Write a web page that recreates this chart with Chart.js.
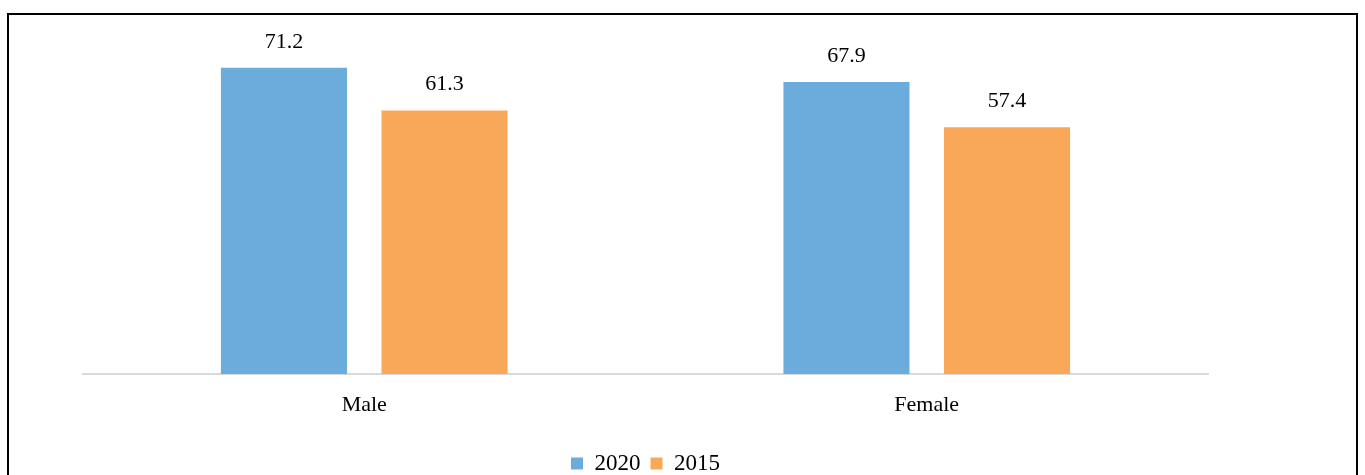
<!DOCTYPE html>
<html>
<head>
<meta charset="utf-8">
<script src="https://cdn.jsdelivr.net/npm/chart.js@4"></script>
<style>
  html, body { margin: 0; padding: 0; background: #fff; }
  #wrap { position: relative; width: 1365px; height: 475px; overflow: hidden; }
  #frame { position: absolute; left: 7px; top: 13px; width: 1351px; height: 480px; border: 2px solid #000; box-sizing: border-box; }
  canvas { position: absolute; left: 0; top: 0; }
</style>
</head>
<body>
<div id="wrap">
  <div id="frame"></div>
  <canvas id="genderChart" width="1365" height="475"></canvas>
</div>
<script>
const categories = ['Male', 'Female'];
const seriesNames = ['2020', '2015'];
const values2020 = [71.2, 67.9];
const values2015 = [61.3, 57.4];
const colors = ['#6cacdc', '#f9a85a'];

const FONT = "'Liberation Serif', 'DejaVu Serif', serif";

// value labels above each bar
const barLabels = {
    id: 'barLabels',
    afterDatasetsDraw(chart) {
        const ctx = chart.ctx;
        ctx.save();
        ctx.font = '22px ' + FONT;
        ctx.fillStyle = '#000';
        ctx.textAlign = 'center';
        ctx.textBaseline = 'alphabetic';
        chart.data.datasets.forEach((ds, i) => {
            chart.getDatasetMeta(i).data.forEach((bar, j) => {
                ctx.fillText(ds.data[j].toFixed(1), bar.x, bar.y - 20);
            });
        });
        ctx.restore();
    }
};

new Chart('genderChart', {
    type: 'bar',
    data: {
        labels: categories,
        datasets: [
            { label: seriesNames[0], data: values2020, backgroundColor: colors[0] },
            { label: seriesNames[1], data: values2015, backgroundColor: colors[1] }
        ]
    },
    options: {
        responsive: false,
        animation: false,
        events: [],
        categoryPercentage: 0.571,
        barPercentage: 0.785,
        layout: { padding: { left: 83, right: 157, top: 30, bottom: -10 } },
        scales: {
            x: {
                grid: { display: false },
                border: { color: '#d9d9d9', width: 2 },
                ticks: { color: '#000', font: { family: FONT, size: 22 }, padding: 10 },
                afterFit: (scale) => { scale.height = 68; }
            },
            y: {
                display: false,
                min: 0,
                max: 80
            }
        },
        plugins: {
            legend: {
                position: 'bottom',
                labels: {
                    color: '#000',
                    font: { family: FONT, size: 23, lineHeight: 1.0 },
                    boxWidth: 12,
                    boxHeight: 12,
                    padding: 10
                }
            },
            tooltip: { enabled: false }
        }
    },
    plugins: [barLabels]
});
</script>
</body>
</html>
